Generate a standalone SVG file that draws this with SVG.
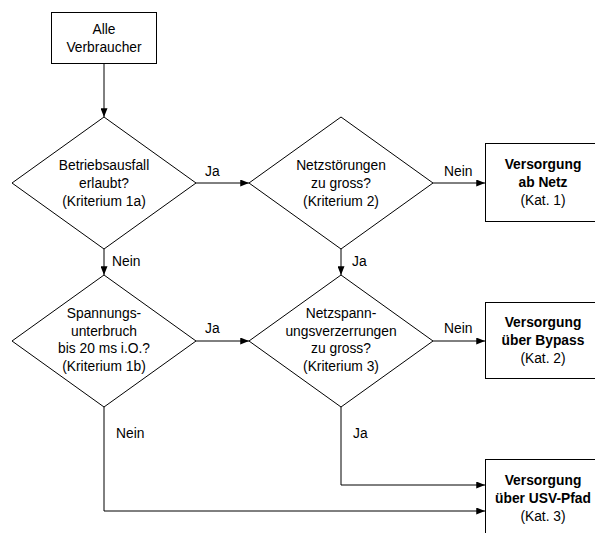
<svg xmlns="http://www.w3.org/2000/svg" width="595" height="533" viewBox="0 0 595 533">
<defs>
<style>
.s{fill:#fff;stroke:#000;stroke-width:1}
.c{fill:none;stroke:#000;stroke-width:1}
text{font-family:"Liberation Sans",Arial,sans-serif;font-size:13.8px;fill:#000;text-anchor:middle}
.b{font-weight:bold}
.l{text-anchor:start}
</style>
<marker id="a" viewBox="0 0 10 8" refX="10" refY="4" markerWidth="10" markerHeight="7" markerUnits="userSpaceOnUse" orient="auto">
<path d="M0,0 L10,4 L0,8 Z" fill="#000"/>
</marker>
</defs>
<rect width="595" height="533" fill="#fff"/>
<g id="connectors">
<path class="c" d="M104,64 V117" marker-end="url(#a)"/>
<path class="c" d="M196,183 H249" marker-end="url(#a)"/>
<path class="c" d="M433,183 H485" marker-end="url(#a)"/>
<path class="c" d="M104,249 V275" marker-end="url(#a)"/>
<path class="c" d="M341,249 V275" marker-end="url(#a)"/>
<path class="c" d="M196,341 H249" marker-end="url(#a)"/>
<path class="c" d="M433,341 H485" marker-end="url(#a)"/>
<path class="c" d="M341,407 V485 H485" marker-end="url(#a)"/>
<path class="c" d="M104,407 V511 H485" marker-end="url(#a)"/>
<text class="l" x="205" y="176">Ja</text>
<text class="l" x="444" y="176">Nein</text>
<text class="l" x="112" y="266">Nein</text>
<text class="l" x="352" y="266">Ja</text>
<text class="l" x="205" y="333">Ja</text>
<text class="l" x="444" y="333">Nein</text>
<text class="l" x="116" y="438">Nein</text>
<text class="l" x="353" y="438">Ja</text>
</g>
<g id="start">
<rect class="s" x="51.5" y="12.5" width="105" height="51"/>
<text x="104" y="34">Alle</text>
<text x="104" y="51.5">Verbraucher</text>
</g>
<g id="d1">
<path class="s" d="M104,117 L196,183 L104,249 L12,183 Z"/>
<text x="104" y="170">Betriebsausfall</text>
<text x="104" y="188">erlaubt?</text>
<text x="104" y="205.5">(Kriterium 1a)</text>
</g>
<g id="d2">
<path class="s" d="M341,117 L433,183 L341,249 L249,183 Z"/>
<text x="341" y="170">Netzstörungen</text>
<text x="341" y="188">zu gross?</text>
<text x="341" y="205.5">(Kriterium 2)</text>
</g>
<g id="d3">
<path class="s" d="M104,275 L196,341 L104,407 L12,341 Z"/>
<text x="104" y="318">Spannungs-</text>
<text x="104" y="335.5">unterbruch</text>
<text x="104" y="353">bis 20 ms i.O.?</text>
<text x="104" y="370.5">(Kriterium 1b)</text>
</g>
<g id="d4">
<path class="s" d="M341,275 L433,341 L341,407 L249,341 Z"/>
<text x="341" y="318">Netzspann-</text>
<text x="341" y="335.5">ungsverzerrungen</text>
<text x="341" y="353">zu gross?</text>
<text x="341" y="370.5">(Kriterium 3)</text>
</g>
<g id="k1">
<rect class="s" x="485.5" y="143.5" width="120" height="78"/>
<text class="b" x="543" y="169">Versorgung</text>
<text class="b" x="543" y="187">ab Netz</text>
<text x="543" y="204.5">(Kat. 1)</text>
</g>
<g id="k2">
<rect class="s" x="485.5" y="302.5" width="120" height="76"/>
<text class="b" x="543" y="327">Versorgung</text>
<text class="b" x="543" y="345">über Bypass</text>
<text x="543" y="362.5">(Kat. 2)</text>
</g>
<g id="k3">
<rect class="s" x="485.5" y="459.5" width="120" height="90"/>
<text class="b" x="543" y="485">Versorgung</text>
<text class="b" x="543" y="503">über USV-Pfad</text>
<text x="543" y="520.5">(Kat. 3)</text>
</g>
</svg>
